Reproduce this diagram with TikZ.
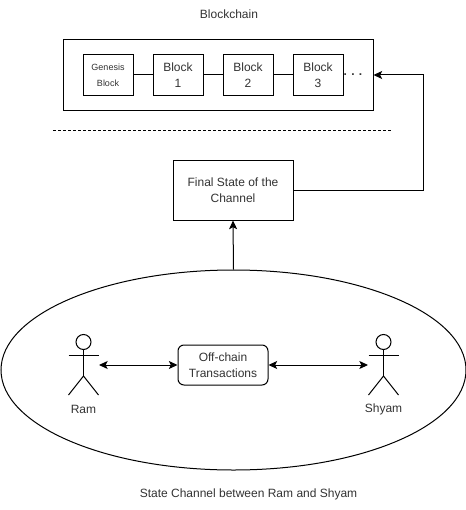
\documentclass[tikz,border=0pt]{standalone}
\usepackage{fontspec}
\setmainfont{Liberation Sans}
\usetikzlibrary{arrows.meta,shapes.geometric}
\tikzset{
  px/.style={x=0.75pt,y=-0.75pt},
  line/.style={draw=black,line width=0.75pt},
  box/.style={line,rectangle,inner sep=0pt,align=center,font=\fontsize{9}{12}\selectfont,text=black!80},
  blockbox/.style={box,minimum width=37.5pt,minimum height=30pt},
  label/.style={inner sep=0pt,align=center,font=\fontsize{9}{12}\selectfont,text=black!80},
  conn/.style={line,-{Stealth[length=6.5pt,width=6pt,inset=1.5pt]}},
  biconn/.style={line,{Stealth[length=6.5pt,width=6pt,inset=1.5pt]}-{Stealth[length=6.5pt,width=6pt,inset=1.5pt]}},
}
\begin{document}
\begin{tikzpicture}[px]
\useasboundingbox (0,0) rectangle (466,510);
\fill[white] (0,0) rectangle (466,510);
\node[label] (title) at (229,14) {Blockchain};
\node[box,minimum width=232.5pt,minimum height=52.5pt] (chain) at (218,75) {};
\node[blockbox,font=\fontsize{6.75}{12}\selectfont] (genesis) at (108,75) {Genesis\\Block};
\node[blockbox] (b1) at (178,75) {Block\\1};
\node[blockbox] (b2) at (248,75) {Block\\2};
\node[blockbox] (b3) at (318,75) {Block\\3};
\node[label,font=\fontsize{9}{12}\selectfont\bfseries] (dots) at (353,75) {.\hspace{3.2pt}.\hspace{3.2pt}.};
\draw[line] (genesis) -- (b1);
\draw[line] (b1) -- (b2);
\draw[line] (b2) -- (b3);
\coordinate (sep1) at (53,130);
\coordinate (sep2) at (393,130);
\draw[line,dash pattern=on 2.25pt off 1.5pt] (sep1) -- (sep2);
\node[box,minimum width=90pt,minimum height=45pt] (final) at (233,190) {Final State of the\\Channel};
\draw[conn] (final.east) -| (423,75) -- (chain.east);
\node[line,ellipse,minimum width=348.75pt,minimum height=150pt,inner sep=0pt] (channel) at (233.5,370) {};
\draw[conn] (channel.north) -- (final.south);
\node[box,rounded corners=4.5pt,minimum width=67.5pt,minimum height=30pt] (off) at (223,365) {Off-chain\\Transactions};
% Ram
\node[line,circle,minimum size=11.25pt,inner sep=0pt] (ramhead) at (83.5,342) {};
\coordinate (ramhip) at (83.5,376);
\draw[line] (ramhead.south) -- (ramhip);
\draw[line] (68.5,355) -- (98.5,355);
\draw[line] (68.5,395) -- (ramhip) -- (98.5,395);
\node[label] (ram) at (83.5,409) {Ram};
\coordinate (ramport) at (99,365);
% Shyam
\node[line,circle,minimum size=11.25pt,inner sep=0pt] (shyamhead) at (383.5,342) {};
\coordinate (shyamhip) at (383.5,376);
\draw[line] (shyamhead.south) -- (shyamhip);
\draw[line] (368.5,355) -- (398.5,355);
\draw[line] (368.5,395) -- (shyamhip) -- (398.5,395);
\node[label] (shyam) at (383.5,409) {Shyam};
\coordinate (shyamport) at (368,365);
\draw[biconn] (ramport) -- (off.west);
\draw[biconn] (off.east) -- (shyamport);
\node[label] (caption) at (248.5,494) {State Channel between Ram and Shyam};
\end{tikzpicture}
\end{document}
